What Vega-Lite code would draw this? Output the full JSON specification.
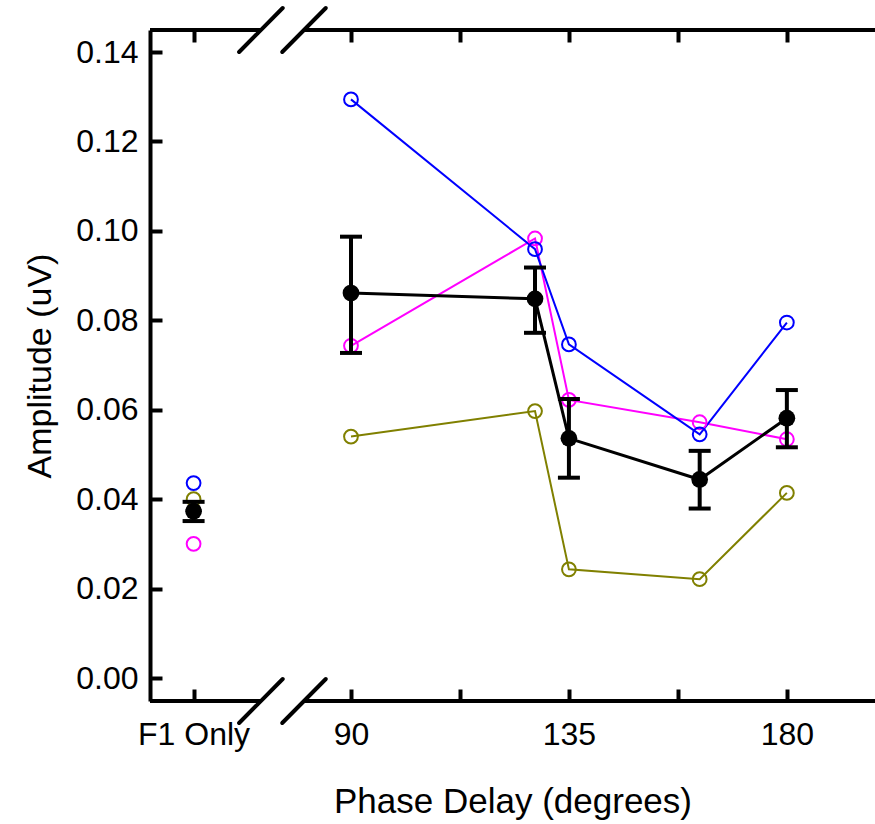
{
  "$schema": "https://vega.github.io/schema/vega-lite/v6.json",
  "autosize": {"type": "none"},
  "padding": {"left": 150, "top": 30, "right": 0, "bottom": 123},
  "width": 725,
  "height": 671,
  "config": {
    "view": {"stroke": null},
    "font": "Liberation Sans",
    "axis": {
      "labelFont": "Liberation Sans",
      "titleFont": "Liberation Sans",
      "labelColor": "black",
      "titleColor": "black",
      "titleFontWeight": "normal",
      "tickColor": "black",
      "domainColor": "black",
      "grid": false
    }
  },
  "datasets": {
    "amplitudes": [
      {"series": "olive", "condition": "F1 Only", "phase": null, "amp": 0.0400},
      {"series": "olive", "condition": "Phase", "phase": 90, "amp": 0.0540},
      {"series": "olive", "condition": "Phase", "phase": 128, "amp": 0.0597},
      {"series": "olive", "condition": "Phase", "phase": 135, "amp": 0.0243},
      {"series": "olive", "condition": "Phase", "phase": 162, "amp": 0.0221},
      {"series": "olive", "condition": "Phase", "phase": 180, "amp": 0.0414},
      {"series": "magenta", "condition": "F1 Only", "phase": null, "amp": 0.0300},
      {"series": "magenta", "condition": "Phase", "phase": 90, "amp": 0.0743},
      {"series": "magenta", "condition": "Phase", "phase": 128, "amp": 0.0983},
      {"series": "magenta", "condition": "Phase", "phase": 135, "amp": 0.0622},
      {"series": "magenta", "condition": "Phase", "phase": 162, "amp": 0.0572},
      {"series": "magenta", "condition": "Phase", "phase": 180, "amp": 0.0534},
      {"series": "blue", "condition": "F1 Only", "phase": null, "amp": 0.0436},
      {"series": "blue", "condition": "Phase", "phase": 90, "amp": 0.1294},
      {"series": "blue", "condition": "Phase", "phase": 128, "amp": 0.0959},
      {"series": "blue", "condition": "Phase", "phase": 135, "amp": 0.0746},
      {"series": "blue", "condition": "Phase", "phase": 162, "amp": 0.0545},
      {"series": "blue", "condition": "Phase", "phase": 180, "amp": 0.0795}
    ],
    "means": [
      {"condition": "F1 Only", "phase": null, "amp": 0.0373, "lo": 0.0351, "hi": 0.0394},
      {"condition": "Phase", "phase": 90, "amp": 0.0861, "lo": 0.0727, "hi": 0.0987},
      {"condition": "Phase", "phase": 128, "amp": 0.0848, "lo": 0.0772, "hi": 0.0918},
      {"condition": "Phase", "phase": 135, "amp": 0.0536, "lo": 0.0448, "hi": 0.0624},
      {"condition": "Phase", "phase": 162, "amp": 0.0444, "lo": 0.0379, "hi": 0.0508},
      {"condition": "Phase", "phase": 180, "amp": 0.0581, "lo": 0.0516, "hi": 0.0644}
    ],
    "frame": [
      {"x": 48.5, "x2": 71.4, "y": -0.00514, "y2": -0.00514},
      {"x": 80.3, "x2": 198.2, "y": -0.00514, "y2": -0.00514},
      {"x": 48.5, "x2": 71.4, "y": 0.14492, "y2": 0.14492},
      {"x": 80.3, "x2": 198.2, "y": 0.14492, "y2": 0.14492}
    ],
    "breaks": [
      {"x": 66.9, "x2": 75.9, "y": -0.01006, "y2": -0.00022},
      {"x": 75.8, "x2": 84.8, "y": -0.01006, "y2": -0.00022},
      {"x": 66.9, "x2": 75.9, "y": 0.14000, "y2": 0.14984},
      {"x": 75.8, "x2": 84.8, "y": 0.14000, "y2": 0.14984}
    ]
  },
  "resolve": {"axis": {"x": "independent", "y": "independent"}},
  "layer": [
    {
      "data": {"name": "frame"},
      "mark": {"type": "rule", "strokeWidth": 4, "color": "black"},
      "encoding": {
        "x": {
          "field": "x", "type": "quantitative",
          "scale": {"domain": [48.5, 198.2], "nice": false, "zero": false},
          "axis": {
            "orient": "bottom",
            "title": "Phase Delay (degrees)",
            "titleFontSize": 35,
            "titlePadding": 34,
            "values": [57.5, 90, 112.5, 135, 157.5, 180],
            "labelExpr": "datum.value < 60 ? 'F1 Only' : (datum.value == 112.5 || datum.value == 157.5 ? '' : datum.label)",
            "labelFontSize": 32,
            "labelPadding": 30,
            "labelFlush": false,
            "labelOverlap": false,
            "domain": false,
            "tickSize": -12,
            "tickWidth": 4
          }
        },
        "x2": {"field": "x2"},
        "y": {
          "field": "y", "type": "quantitative",
          "scale": {"domain": [-0.00514, 0.14492], "nice": false, "zero": false},
          "axis": {
            "orient": "left",
            "title": "Amplitude (uV)",
            "titleFontSize": 34,
            "titlePadding": 18,
            "values": [0, 0.02, 0.04, 0.06, 0.08, 0.1, 0.12, 0.14],
            "format": ".2f",
            "labelFontSize": 32,
            "labelPadding": 24,
            "labelFlush": false,
            "labelOverlap": false,
            "domain": true,
            "domainWidth": 4,
            "tickSize": -12,
            "tickWidth": 4
          }
        },
        "y2": {"field": "y2"}
      }
    },
    {
      "data": {"name": "breaks"},
      "mark": {"type": "rule", "strokeWidth": 4, "color": "black", "strokeCap": "round"},
      "encoding": {
        "x": {
          "field": "x", "type": "quantitative",
          "axis": {
            "orient": "top",
            "title": null,
            "values": [57.5, 90, 112.5, 135, 157.5, 180],
            "labels": false,
            "domain": false,
            "tickSize": -12,
            "tickWidth": 4
          }
        },
        "x2": {"field": "x2"},
        "y": {"field": "y", "type": "quantitative", "axis": null},
        "y2": {"field": "y2"}
      }
    },
    {
      "data": {"name": "amplitudes"},
      "transform": [{"filter": "datum.condition === 'Phase'"}],
      "mark": {"type": "line", "strokeWidth": 2},
      "encoding": {
        "x": {"field": "phase", "type": "quantitative", "axis": null},
        "y": {"field": "amp", "type": "quantitative", "axis": null},
        "color": {
          "field": "series", "type": "nominal",
          "scale": {"domain": ["olive", "magenta", "blue"], "range": ["#808000", "#ff00ff", "#0000ff"]},
          "legend": null
        },
        "order": {"field": "phase", "type": "quantitative"}
      }
    },
    {
      "data": {"name": "amplitudes"},
      "transform": [{"calculate": "datum.condition === 'F1 Only' ? 57.5 : datum.phase", "as": "xpos"}],
      "mark": {"type": "point", "shape": "circle", "filled": false, "size": 190, "strokeWidth": 2, "opacity": 1},
      "encoding": {
        "x": {"field": "xpos", "type": "quantitative", "axis": null},
        "y": {"field": "amp", "type": "quantitative", "axis": null},
        "color": {
          "field": "series", "type": "nominal",
          "scale": {"domain": ["olive", "magenta", "blue"], "range": ["#808000", "#ff00ff", "#0000ff"]},
          "legend": null
        }
      }
    },
    {
      "data": {"name": "means"},
      "transform": [{"filter": "datum.condition === 'Phase'"}],
      "mark": {"type": "line", "strokeWidth": 3, "color": "black"},
      "encoding": {
        "x": {"field": "phase", "type": "quantitative", "axis": null},
        "y": {"field": "amp", "type": "quantitative", "axis": null},
        "order": {"field": "phase", "type": "quantitative"}
      }
    },
    {
      "data": {"name": "means"},
      "transform": [{"calculate": "datum.condition === 'F1 Only' ? 57.5 : datum.phase", "as": "xpos"}],
      "mark": {"type": "rule", "strokeWidth": 4, "color": "black"},
      "encoding": {
        "x": {"field": "xpos", "type": "quantitative", "axis": null},
        "y": {"field": "lo", "type": "quantitative", "axis": null},
        "y2": {"field": "hi"}
      }
    },
    {
      "data": {"name": "means"},
      "transform": [{"calculate": "datum.condition === 'F1 Only' ? 57.5 : datum.phase", "as": "xpos"}],
      "mark": {"type": "tick", "orient": "horizontal", "size": 22, "thickness": 4, "color": "black", "opacity": 1},
      "encoding": {
        "x": {"field": "xpos", "type": "quantitative", "axis": null},
        "y": {"field": "lo", "type": "quantitative", "axis": null}
      }
    },
    {
      "data": {"name": "means"},
      "transform": [{"calculate": "datum.condition === 'F1 Only' ? 57.5 : datum.phase", "as": "xpos"}],
      "mark": {"type": "tick", "orient": "horizontal", "size": 22, "thickness": 4, "color": "black", "opacity": 1},
      "encoding": {
        "x": {"field": "xpos", "type": "quantitative", "axis": null},
        "y": {"field": "hi", "type": "quantitative", "axis": null}
      }
    },
    {
      "data": {"name": "means"},
      "transform": [{"calculate": "datum.condition === 'F1 Only' ? 57.5 : datum.phase", "as": "xpos"}],
      "mark": {"type": "point", "shape": "circle", "filled": true, "size": 280, "color": "black", "opacity": 1},
      "encoding": {
        "x": {"field": "xpos", "type": "quantitative", "axis": null},
        "y": {"field": "amp", "type": "quantitative", "axis": null}
      }
    }
  ]
}
